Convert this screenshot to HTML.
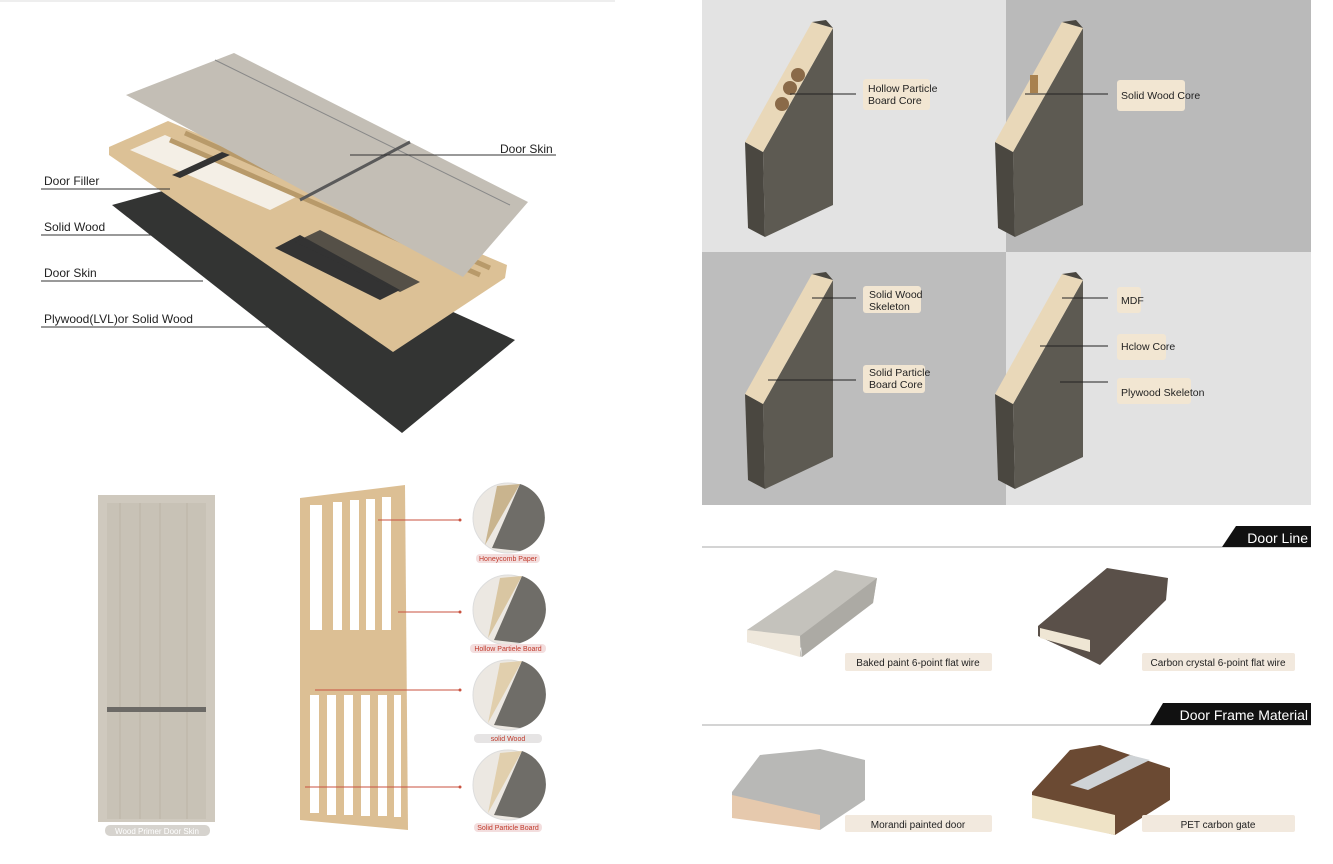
<!DOCTYPE html>
<html><head><meta charset="utf-8"><style>
html,body{margin:0;padding:0;background:#fff}
svg{display:block}
text{font-family:"Liberation Sans",sans-serif}
</style></head><body>
<svg width="1333" height="864" viewBox="0 0 1333 864" xmlns="http://www.w3.org/2000/svg">
<defs>
<g id="blk">
  <polygon points="745,142 763,152 765,237 748,228" fill="#4a4740"/>
  <polygon points="763,152 833,28 833,205 765,237" fill="#5d5a52"/>
  <polygon points="745,142 812,22 833,28 763,152" fill="#e9d8b9"/>
  <polygon points="812,22 826,20 833,28" fill="#4a4740"/>
</g>
</defs>
<rect width="1333" height="864" fill="#fff"/>
<rect x="0" y="0" width="615" height="2" fill="#eee"/>

<!-- exploded door -->
<polygon points="112,205 177,187 515,340 402,433" fill="#333433"/>
<polygon points="109,147 168,121 507,265 505,278 393,352 109,155" fill="#dcc196"/>
<polygon points="130,150 165,135 300,195 270,210" fill="#f4efe6"/>
<g stroke="#b89a6a" stroke-width="5">
<line x1="170" y1="140" x2="480" y2="275"/><line x1="185" y1="133" x2="490" y2="268"/>
</g>
<polygon points="172,175 222,152 230,155 180,178" fill="#333"/>
<polygon points="275,248 300,235 400,290 380,300" fill="#333"/>
<polygon points="295,242 320,230 420,282 400,292" fill="#333" opacity=".8"/>
<polygon points="126,95 234,53 528,202 463,277" fill="#c3beb5"/>
<line x1="215" y1="60" x2="510" y2="205" stroke="#888" stroke-width="1"/>
<line x1="300" y1="200" x2="410" y2="142" stroke="#5a5a5a" stroke-width="3"/>
<g font-size="12" fill="#222">
<text x="44" y="185">Door Filler</text><text x="44" y="231">Solid Wood</text>
<text x="44" y="277">Door Skin</text><text x="44" y="323">Plywood(LVL)or Solid Wood</text>
<text x="500" y="153">Door Skin</text>
</g>
<g stroke="#333" stroke-width="1">
<line x1="41" y1="189" x2="170" y2="189"/><line x1="41" y1="235" x2="205" y2="235"/>
<line x1="41" y1="281" x2="203" y2="281"/><line x1="41" y1="327" x2="312" y2="327"/>
<line x1="350" y1="155" x2="556" y2="155"/>
</g>

<!-- panel door -->
<rect x="98" y="495" width="117" height="327" fill="#cfc9be"/>
<rect x="107" y="503" width="99" height="316" fill="#c8c2b6"/>
<g stroke="#bbb4a7" stroke-width="1">
<line x1="120" y1="503" x2="120" y2="819"/><line x1="140" y1="503" x2="140" y2="819"/><line x1="160" y1="503" x2="160" y2="819"/><line x1="187" y1="503" x2="187" y2="819"/>
</g>
<rect x="107" y="707" width="99" height="5" fill="#6c6a66"/>
<rect x="105" y="825" width="105" height="11" rx="5" fill="#d6d3ce"/>
<text x="157" y="834" font-size="8" fill="#fff" text-anchor="middle">Wood Primer Door Skin</text>

<!-- wood frame -->
<polygon points="300,498 405,485 408,830 300,820" fill="#dcbf94"/>
<g fill="#fff">
<rect x="310" y="505" width="12" height="125"/><rect x="333" y="502" width="9" height="128"/><rect x="350" y="500" width="9" height="130"/><rect x="366" y="499" width="9" height="131"/><rect x="382" y="497" width="9" height="133"/>
<rect x="310" y="695" width="9" height="118"/><rect x="327" y="695" width="9" height="120"/><rect x="344" y="695" width="9" height="120"/><rect x="361" y="695" width="9" height="121"/><rect x="378" y="695" width="9" height="121"/><rect x="394" y="695" width="7" height="122"/>
</g>
<g stroke="#c9523f" stroke-width="1">
<line x1="378" y1="520" x2="460" y2="520"/><line x1="398" y1="612" x2="460" y2="612"/><line x1="315" y1="690" x2="460" y2="690"/><line x1="305" y1="787" x2="460" y2="787"/>
</g>
<g fill="#c9523f"><circle cx="460" cy="520" r="1.5"/><circle cx="460" cy="612" r="1.5"/><circle cx="460" cy="690" r="1.5"/><circle cx="460" cy="787" r="1.5"/></g>
<g>
<circle cx="508" cy="518" r="35" fill="#ece8e2" stroke="#ddd"/><path d="M497,486 L520,484 L485,545 Z" fill="#c9b48e"/><path d="M520,484 A35,35 0 0 1 520,551 L492,548 Z" fill="#6f6d68"/>
<circle cx="508" cy="610" r="35" fill="#ece8e2" stroke="#ddd"/><path d="M500,578 L522,576 L488,638 Z" fill="#d9c6a2"/><path d="M522,576 A35,35 0 0 1 520,643 L494,640 Z" fill="#6f6d68"/>
<circle cx="508" cy="695" r="35" fill="#ece8e2" stroke="#ddd"/><path d="M500,663 L522,661 L488,723 Z" fill="#e1cfad"/><path d="M522,661 A35,35 0 0 1 520,728 L494,725 Z" fill="#6f6d68"/>
<circle cx="508" cy="785" r="35" fill="#ece8e2" stroke="#ddd"/><path d="M500,753 L522,751 L488,813 Z" fill="#e1cfad"/><path d="M522,751 A35,35 0 0 1 520,818 L494,815 Z" fill="#6f6d68"/>
</g>
<g font-size="7" fill="#c0392b" text-anchor="middle">
<rect x="476" y="554" width="64" height="9" rx="4" fill="#f3dede"/><text x="508" y="561">Honeycomb Paper</text>
<rect x="470" y="644" width="76" height="9" rx="4" fill="#f3dede"/><text x="508" y="651">Hollow Partiele Board</text>
<rect x="474" y="734" width="68" height="9" rx="4" fill="#e6e4e4"/><text x="508" y="741">solid Wood</text>
<rect x="474" y="823" width="68" height="9" rx="4" fill="#f3dede"/><text x="508" y="830">Solid Particle Board</text>
</g>

<!-- quadrants -->
<rect x="702" y="0" width="304" height="252" fill="#e3e3e3"/>
<rect x="1006" y="0" width="305" height="252" fill="#bababa"/>
<rect x="702" y="252" width="304" height="253" fill="#bdbdbd"/>
<rect x="1006" y="252" width="305" height="253" fill="#e2e2e2"/>
<use href="#blk"/>
<use href="#blk" transform="translate(250,0)"/>
<use href="#blk" transform="translate(0,252)"/>
<use href="#blk" transform="translate(250,252)"/>
<g fill="#8a6a48"><circle cx="798" cy="75" r="7"/><circle cx="790" cy="88" r="7"/><circle cx="782" cy="104" r="7"/></g>
<rect x="1030" y="75" width="8" height="18" fill="#a8814f"/>
<g fill="#f2e6d2">
<rect x="863" y="79" width="67" height="31" rx="3"/><rect x="1117" y="80" width="68" height="31" rx="3" transform="translate(0,0)"/>
<rect x="863" y="286" width="58" height="27" rx="3"/><rect x="863" y="365" width="62" height="28" rx="3"/>
<rect x="1117" y="287" width="24" height="26" rx="3"/><rect x="1117" y="334" width="49" height="26" rx="3"/><rect x="1117" y="378" width="74" height="26" rx="3"/>
</g>
<g font-size="10.5" fill="#222">
<text x="868" y="92">Hollow Particle</text><text x="868" y="104">Board Core</text>
<text x="1121" y="99">Solid Wood Core</text>
<text x="869" y="298">Solid Wood</text><text x="869" y="310">Skeleton</text>
<text x="869" y="376">Solid Particle</text><text x="869" y="388">Board Core</text>
<text x="1121" y="304">MDF</text><text x="1121" y="350">Hclow Core</text><text x="1121" y="396">Plywood Skeleton</text>
</g>
<g stroke="#222" stroke-width="1">
<line x1="790" y1="94" x2="856" y2="94"/><line x1="1025" y1="94" x2="1108" y2="94"/>
<line x1="812" y1="298" x2="856" y2="298"/><line x1="768" y1="380" x2="856" y2="380"/>
<line x1="1062" y1="298" x2="1108" y2="298"/><line x1="1040" y1="346" x2="1108" y2="346"/><line x1="1060" y1="382" x2="1108" y2="382"/>
</g>

<!-- headers -->
<line x1="702" y1="547" x2="1311" y2="547" stroke="#aaa"/>
<polygon points="1236,526 1311,526 1311,547 1222,547" fill="#111"/>
<text x="1308" y="543" font-size="14" fill="#fff" text-anchor="end">Door Line</text>
<line x1="702" y1="725" x2="1311" y2="725" stroke="#aaa"/>
<polygon points="1163,703 1311,703 1311,725 1150,725" fill="#111"/>
<text x="1308" y="720" font-size="14" fill="#fff" text-anchor="end">Door Frame Material</text>

<!-- profiles -->
<polygon points="747,630 835,570 877,578 873,603 800,648 802,657 747,642" fill="#c4c2bc"/>
<polygon points="747,630 800,636 800,657 747,642" fill="#efe8dc"/>
<polygon points="800,636 877,578 873,603 802,657" fill="#acaaa4"/>
<polygon points="1038,626 1107,568 1168,578 1166,600 1100,665 1090,660 1038,636" fill="#5a5049"/>
<polygon points="1040,628 1090,640 1090,652 1040,638" fill="#efe6d4"/>
<polygon points="732,792 760,755 820,749 865,760 865,800 820,830 732,815" fill="#b8b8b6"/>
<polygon points="732,795 820,815 820,830 732,818" fill="#e6c9ad"/>
<polygon points="1032,792 1070,750 1100,745 1170,768 1170,800 1115,835 1032,815" fill="#6b4a33"/>
<polygon points="1032,795 1115,815 1115,835 1032,818" fill="#efe3c6"/>
<polygon points="1070,785 1130,755 1150,760 1088,790" fill="#cfd3d6"/>
<g fill="#f2e9de">
<rect x="845" y="653" width="147" height="18" rx="2"/><rect x="1142" y="653" width="153" height="18" rx="2"/>
<rect x="845" y="815" width="147" height="17" rx="2"/><rect x="1142" y="815" width="153" height="17" rx="2"/>
</g>
<g font-size="10" fill="#222" text-anchor="middle">
<text x="918" y="666">Baked paint 6-point flat wire</text><text x="1218" y="666">Carbon crystal 6-point flat wire</text>
<text x="918" y="828">Morandi painted door</text><text x="1218" y="828">PET carbon gate</text>
</g>
</svg>
</body></html>
